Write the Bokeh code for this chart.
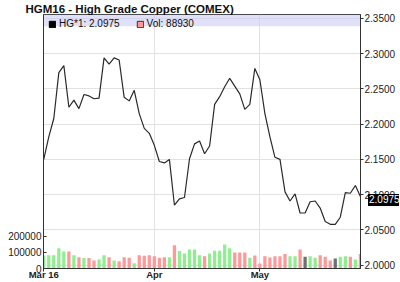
from bokeh.plotting import figure
from bokeh.models import (Range1d, LinearAxis, FixedTicker, BoxAnnotation, Div,
                          Legend, LegendItem, ColumnDataSource, PrintfTickFormatter)
from bokeh.layouts import column
from bokeh.embed import file_html
from bokeh.resources import INLINE

title_text = "HGM16 - High Grade Copper (COMEX)"
price = [2.150, 2.182, 2.208, 2.273, 2.283, 2.224, 2.234, 2.222, 2.242, 2.240,
         2.236, 2.237, 2.294, 2.285, 2.294, 2.291, 2.238, 2.233, 2.248, 2.215,
         2.194, 2.187, 2.170, 2.147, 2.145, 2.150, 2.085, 2.094, 2.096, 2.151,
         2.172, 2.176, 2.158, 2.169, 2.228, 2.239, 2.253, 2.265, 2.254, 2.243,
         2.221, 2.228, 2.279, 2.263, 2.215, 2.182, 2.153, 2.150, 2.104, 2.091,
         2.101, 2.074, 2.074, 2.090, 2.091, 2.081, 2.062, 2.058, 2.058, 2.068,
         2.103, 2.102, 2.113, 2.0975]
volume = [80000, 82000, 82000, 124000, 104000, 104000, 82000, 70000, 64000, 65000,
          50000, 55000, 81000, 70000, 50000, 45000, 69000, 66000, 33000, 82000,
          78000, 82000, 75000, 66000, 70000, 70000, 143000, 107000, 92000, 117000,
          117000, 82000, 76000, 92000, 109000, 109000, 148000, 124000, 98000, 98000,
          98000, 66000, 80000, 31000, 76000, 68000, 76000, 76000, 89000, 76000,
          76000, 117000, 72000, 76000, 66000, 82000, 72000, 50000, 61000, 72000,
          76000, 72000, 55000, 88930]
# u = up day, d = down day, f = unchanged
direction = list("uuuuudududduudud" "ddudddddduduuuuu" "duuuuudddudddddd"
                 "duudfuudddfuudud")
x_tick_pos = [0, 22, 43]
x_tick_labels = ["Mar 16", "Apr", "May"]
price_ticks = [2.00, 2.05, 2.10, 2.15, 2.20, 2.25, 2.30, 2.35]
vol_ticks = [0, 100000, 200000]
last_price = 2.0975
last_vol = 88930

dir_color = {"u": "#90ee90", "d": "#ff9999", "f": "#707070"}
idx = list(range(len(price)))
src = ColumnDataSource(dict(x=idx, price=price, vol=volume,
                            color=[dir_color[d] for d in direction]))

FONT = "Liberation Sans"
p = figure(width=400, height=282, output_backend="svg", toolbar_location=None,
           x_range=Range1d(-0.05, 63.02), y_range=Range1d(1.9953, 2.3555),
           y_axis_location="right",
           min_border_left=43, min_border_right=40, min_border_top=14, min_border_bottom=14)
p.background_fill_color = "white"
p.border_fill_color = "white"
p.outline_line_color = "#333333"
p.extra_y_ranges = {"vol": Range1d(0, 1.564e6)}

# title
p.title.text = title_text
p.title.text_font = FONT
p.title.text_font_style = "bold"
p.title.text_font_size = "11.5px"
p.title.text_color = "#111111"
p.title.align = "left"
p.title.vertical_align = "middle"
p.title.offset = -18
p.title.standoff = -3

# band behind legend
p.add_layout(BoxAnnotation(bottom=2.339, fill_color="#cbcbf3", fill_alpha=0.6,
                           line_color=None, level="underlay"))

# grids
p.xgrid[0].ticker = FixedTicker(ticks=x_tick_pos[1:])
p.ygrid[0].ticker = FixedTicker(ticks=price_ticks)
for g in (p.xgrid[0], p.ygrid[0]):
    g.grid_line_color = "#e2e2e2"
    g.grid_line_width = 1

# volume bars
p.vbar(x="x", top="vol", bottom=0, width=0.65, fill_color="color", line_color=None,
       y_range_name="vol", source=src)
# price line
p.line(x="x", y="price", line_color="#2a2a2a", line_width=1.2, source=src)

# axes
xa = p.xaxis[0]
xa.ticker = FixedTicker(ticks=x_tick_pos)
xa.major_label_overrides = {t: l for t, l in zip(x_tick_pos, x_tick_labels)}
xa.major_label_text_font = FONT
xa.major_label_text_font_style = "bold"
xa.major_label_text_font_size = "9.5px"
xa.major_label_text_color = "#222222"
xa.major_tick_in = 0
xa.major_tick_out = 3
xa.minor_tick_in = 0
xa.minor_tick_out = 0
xa.minor_tick_line_color = None
xa.major_label_standoff = -3
xa.axis_line_color = "#333333"
xa.major_tick_line_color = "#333333"

ya = p.yaxis[0]
ya.ticker = FixedTicker(ticks=price_ticks)
ya.formatter = PrintfTickFormatter(format="%.4f")
ya.major_label_text_font = FONT
ya.major_label_text_font_size = "10px"
ya.major_label_text_color = "#222222"
ya.major_tick_in = 0
ya.major_tick_out = 3
ya.minor_tick_in = 0
ya.minor_tick_out = 0
ya.minor_tick_line_color = None
ya.major_label_standoff = 1
ya.axis_line_color = "#333333"
ya.major_tick_line_color = "#333333"

va = LinearAxis(y_range_name="vol", ticker=FixedTicker(ticks=vol_ticks),
                formatter=PrintfTickFormatter(format="%d"))
va.major_label_text_font = FONT
va.major_label_text_font_size = "10px"
va.major_label_text_color = "#222222"
va.major_tick_in = 3
va.major_tick_out = 0
va.minor_tick_in = 0
va.minor_tick_out = 0
va.minor_tick_line_color = None
va.major_label_standoff = 2
va.axis_line_color = "#333333"
va.major_tick_line_color = "#333333"
p.add_layout(va, "left")

# legend swatches: hidden renderers on the same data
r1 = p.vbar(x="x", top="vol", width=0.65, fill_color="black", line_color="black",
            y_range_name="vol", source=src, visible=False)
r2 = p.vbar(x="x", top="vol", width=0.65, fill_color="#ff9999", line_color="#333333",
            y_range_name="vol", source=src, visible=False)
leg = Legend(items=[LegendItem(label="HG*1: %.4f" % last_price, renderers=[r1]),
                    LegendItem(label="Vol: %d" % last_vol, renderers=[r2])],
             location=(5, 239), orientation="horizontal",
             background_fill_alpha=0, border_line_color=None,
             inactive_fill_alpha=0,
             padding=0, margin=0, spacing=16,
             glyph_width=8, glyph_height=8, label_height=8, label_standoff=3,
             label_text_font=FONT, label_text_font_size="10px",
             label_text_color="#111111")
p.add_layout(leg)

# last value tag on the price axis
tag = Div(text="%.4f" % last_price, width=31, height=12,
          styles={"position": "absolute", "left": "363px", "top": "189px",
                  "background-color": "black", "color": "white",
                  "font-family": FONT, "font-size": "10px", "line-height": "12px",
                  "padding-left": "1px", "overflow": "hidden"})

layout = column(p, tag)
open("out.html", "w").write(file_html(layout, INLINE))
